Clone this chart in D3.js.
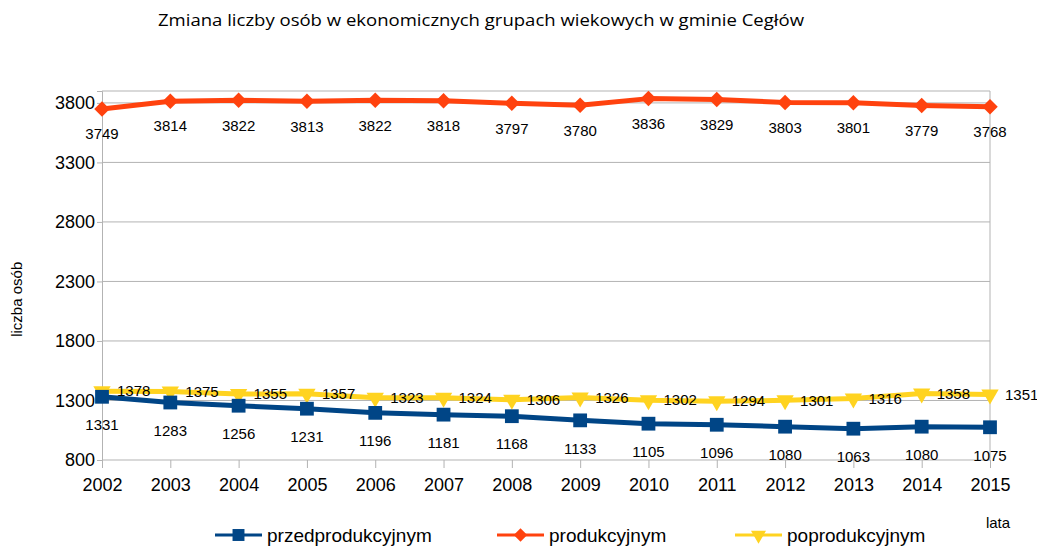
<!DOCTYPE html>
<html>
<head>
<meta charset="utf-8">
<script src="https://cdn.jsdelivr.net/npm/d3@7"></script>
<style>
  body { margin: 0; background: #fff; }
  text { font-family: "Liberation Sans", Arial, sans-serif; }
</style>
</head>
<body>
<div id="wrapper"></div>
<script>
const years = [2002, 2003, 2004, 2005, 2006, 2007, 2008, 2009, 2010, 2011, 2012, 2013, 2014, 2015]
const przed = [1331, 1283, 1256, 1231, 1196, 1181, 1168, 1133, 1105, 1096, 1080, 1063, 1080, 1075]
const prod = [3749, 3814, 3822, 3813, 3822, 3818, 3797, 3780, 3836, 3829, 3803, 3801, 3779, 3768]
const poprod = [1378, 1375, 1355, 1357, 1323, 1324, 1306, 1326, 1302, 1294, 1301, 1316, 1358, 1351]
const yTicks = [800, 1300, 1800, 2300, 2800, 3300, 3800]
const seriesNames = ['przedprodukcyjnym', 'produkcyjnym', 'poprodukcyjnym']

function drawChart() {
  const dimensions = {
    width: 1037,
    height: 546,
    margin: { top: 91, right: 47, bottom: 86, left: 102 }
  }
  dimensions.boundedWidth = dimensions.width - dimensions.margin.left - dimensions.margin.right
  dimensions.boundedHeight = dimensions.height - dimensions.margin.top - dimensions.margin.bottom

  const svg = d3.select('#wrapper')
    .append('svg')
    .attr('width', dimensions.width)
    .attr('height', dimensions.height)

  const bounds = svg.append('g')
    .attr('transform', `translate(${dimensions.margin.left},${dimensions.margin.top})`)

  const xScale = d3.scalePoint().domain(years).range([0, dimensions.boundedWidth]).padding(0)
  const yScale = d3.scaleLinear().domain([800, 3900]).range([dimensions.boundedHeight, 0])

  const gridColor = '#b3b3b3'

  // grid + frame
  bounds.append('g')
    .selectAll('line')
    .data(yTicks.concat([3900]))
    .join('line')
    .attr('x1', 0).attr('x2', dimensions.boundedWidth)
    .attr('y1', d => yScale(d)).attr('y2', d => yScale(d))
    .attr('stroke', gridColor).attr('stroke-width', 1)
  bounds.append('line')
    .attr('x1', dimensions.boundedWidth).attr('x2', dimensions.boundedWidth)
    .attr('y1', 0).attr('y2', dimensions.boundedHeight)
    .attr('stroke', gridColor)

  // axes
  const yAxis = bounds.append('g')
    .call(d3.axisLeft(yScale).tickValues(yTicks).tickFormat(d3.format('d')).tickSize(5).tickPadding(2))
  const xAxis = bounds.append('g')
    .attr('transform', `translate(0,${dimensions.boundedHeight})`)
    .call(d3.axisBottom(xScale).tickSize(8).tickPadding(10))
  ;[yAxis, xAxis].forEach(ax => {
    ax.select('.domain').attr('stroke', gridColor)
    ax.selectAll('.tick line').attr('stroke', gridColor)
    ax.selectAll('.tick text')
      .attr('fill', '#000')
      .style('font-size', '18px')
      .style('font-family', '"Liberation Sans", Arial, sans-serif')
  })
  xAxis.select('.domain').remove()

  const series = [
    { name: seriesNames[0], values: przed, color: '#004586', symbol: d3.symbolSquare, size: 190, rot: 0, label: 'below', dy: 28 },
    { name: seriesNames[1], values: prod, color: '#ff420e', symbol: d3.symbolSquare, size: 120, rot: 45, label: 'below', dy: 25 },
    { name: seriesNames[2], values: poprod, color: '#ffd320', symbol: d3.symbolTriangle, size: 130, rot: 180, label: 'right', dy: 0 }
  ]

  const line = d3.line()
    .x((d, i) => xScale(years[i]))
    .y(d => yScale(d))

  const plotOrder = [series[2], series[0], series[1]]
  plotOrder.forEach(s => {
    const g = bounds.append('g')
    g.append('path')
      .datum(s.values)
      .attr('d', line)
      .attr('fill', 'none')
      .attr('stroke', s.color)
      .attr('stroke-width', 5)
      .attr('stroke-linejoin', 'round')
    g.selectAll('path.marker')
      .data(s.values)
      .join('path')
      .attr('class', 'marker')
      .attr('d', d3.symbol().type(s.symbol).size(s.size))
      .attr('transform', (d, i) => `translate(${xScale(years[i])},${yScale(d)}) rotate(${s.rot})`)
      .attr('fill', s.color)
  })

  // data labels
  series.forEach(s => {
    bounds.append('g')
      .selectAll('text')
      .data(s.values)
      .join('text')
      .attr('x', (d, i) => xScale(years[i]) + (s.label === 'right' ? 15 : 0))
      .attr('y', d => yScale(d) + s.dy)
      .attr('dy', '0.35em')
      .attr('text-anchor', s.label === 'right' ? 'start' : 'middle')
      .style('font-size', '15px')
      .attr('fill', '#000')
      .text(d => d)
  })

  // title
  svg.append('text')
    .attr('x', 481)
    .attr('y', 26)
    .attr('text-anchor', 'middle')
    .attr('textLength', 646)
    .attr('lengthAdjust', 'spacingAndGlyphs')
    .style('font-family', '"Open Sans", sans-serif')
    .style('font-size', '16px')
    .text('Zmiana liczby osób w ekonomicznych grupach wiekowych w gminie Cegłów')

  // axis titles
  svg.append('text')
    .attr('transform', `translate(17,${dimensions.margin.top + yScale(2150)}) rotate(-90)`)
    .attr('text-anchor', 'middle')
    .attr('dy', '0.35em')
    .style('font-size', '15px')
    .text('liczba osób')
  svg.append('text')
    .attr('x', 998)
    .attr('y', 528)
    .attr('text-anchor', 'middle')
    .style('font-size', '15px')
    .text('lata')

  // legend
  const legendX = [215, 497, 735]
  const legend = svg.append('g').attr('transform', 'translate(0,535)')
  series.forEach((s, i) => {
    const lg = legend.append('g').attr('transform', `translate(${legendX[i]},0)`)
    lg.append('line')
      .attr('x1', 0).attr('x2', 47)
      .attr('stroke', s.color).attr('stroke-width', 3)
    lg.append('path')
      .attr('d', d3.symbol().type(s.symbol).size(s.size * 0.75))
      .attr('transform', `translate(23.5,0) rotate(${s.rot})`)
      .attr('fill', s.color)
    lg.append('text')
      .attr('x', 52)
      .attr('dy', '0.35em')
      .style('font-size', '19px')
      .text(s.name)
  })
}

drawChart()
</script>
</body>
</html>
